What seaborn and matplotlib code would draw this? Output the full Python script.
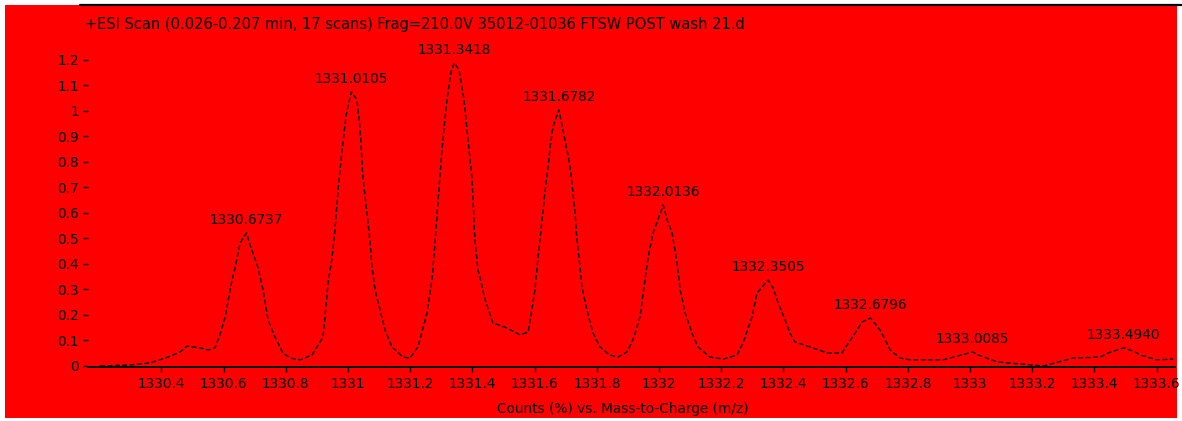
import numpy as np
import pandas as pd
import matplotlib
matplotlib.use("Agg")
import matplotlib.pyplot as plt
from matplotlib.lines import Line2D
from matplotlib.patches import Rectangle
import seaborn as sns

# Profile spectrum: m/z and relative counts
mz = [1330.203, 1330.299, 1330.363, 1330.412, 1330.460, 1330.482, 1330.524, 1330.550,
      1330.572, 1330.588, 1330.605, 1330.627, 1330.637, 1330.653, 1330.6737, 1330.685,
      1330.711, 1330.727, 1330.743, 1330.765, 1330.791, 1330.814, 1330.846, 1330.884,
      1330.920, 1330.936, 1330.949, 1330.958, 1330.968, 1330.981, 1330.994, 1331.0105,
      1331.029, 1331.039, 1331.048, 1331.061, 1331.071, 1331.077, 1331.087, 1331.103,
      1331.119, 1331.141, 1331.177, 1331.199, 1331.225, 1331.254, 1331.270, 1331.280,
      1331.289, 1331.302, 1331.318, 1331.331, 1331.3418, 1331.357, 1331.373, 1331.386,
      1331.399, 1331.408, 1331.418, 1331.424, 1331.441, 1331.466, 1331.511, 1331.553,
      1331.579, 1331.592, 1331.601, 1331.608, 1331.617, 1331.624, 1331.633, 1331.643,
      1331.650, 1331.659, 1331.6782, 1331.688, 1331.704, 1331.714, 1331.720, 1331.730,
      1331.736, 1331.746, 1331.752, 1331.768, 1331.788, 1331.810, 1331.842, 1331.868,
      1331.897, 1331.916, 1331.939, 1331.949, 1331.965, 1331.981, 1332.0136, 1332.026,
      1332.042, 1332.058, 1332.068, 1332.084, 1332.106, 1332.125, 1332.164, 1332.206,
      1332.251, 1332.270, 1332.299, 1332.315, 1332.3505, 1332.367, 1332.383, 1332.399,
      1332.421, 1332.437, 1332.495, 1332.540, 1332.588, 1332.637, 1332.653, 1332.6796,
      1332.711, 1332.743, 1332.775, 1332.807, 1332.913, 1333.0085, 1333.026, 1333.087,
      1333.235, 1333.331, 1333.418, 1333.444, 1333.473, 1333.494, 1333.531, 1333.547,
      1333.601, 1333.653]
counts = [0.000, 0.004, 0.012, 0.031, 0.055, 0.078, 0.071, 0.063,
          0.071, 0.122, 0.192, 0.337, 0.384, 0.482, 0.522, 0.475,
          0.384, 0.298, 0.180, 0.114, 0.051, 0.031, 0.024, 0.043,
          0.114, 0.325, 0.427, 0.533, 0.690, 0.847, 0.984, 1.075,
          1.043, 0.925, 0.737, 0.600, 0.486, 0.388, 0.298, 0.220,
          0.141, 0.075, 0.035, 0.031, 0.075, 0.208, 0.337, 0.486,
          0.639, 0.847, 1.043, 1.153, 1.188, 1.161, 1.043, 0.886,
          0.729, 0.494, 0.376, 0.349, 0.259, 0.169, 0.149, 0.122,
          0.133, 0.227, 0.298, 0.388, 0.494, 0.573, 0.678, 0.780,
          0.859, 0.937, 1.004, 0.945, 0.847, 0.780, 0.718, 0.600,
          0.494, 0.388, 0.310, 0.220, 0.129, 0.075, 0.043, 0.035,
          0.055, 0.102, 0.192, 0.286, 0.427, 0.522, 0.631, 0.573,
          0.522, 0.404, 0.298, 0.208, 0.129, 0.075, 0.035, 0.027,
          0.043, 0.090, 0.192, 0.286, 0.337, 0.306, 0.247, 0.200,
          0.129, 0.094, 0.071, 0.051, 0.051, 0.141, 0.173, 0.188,
          0.141, 0.063, 0.031, 0.024, 0.024, 0.055, 0.043, 0.016,
          0.000, 0.031, 0.035, 0.051, 0.063, 0.071, 0.055, 0.043,
          0.024, 0.027]

# Labelled centroids
peak_mz = [1330.6737, 1331.0105, 1331.3418, 1331.6782, 1332.0136,
           1332.3505, 1332.6796, 1333.0085, 1333.4940]

x_ticks = [1330.4, 1330.6, 1330.8, 1331.0, 1331.2, 1331.4, 1331.6, 1331.8, 1332.0,
           1332.2, 1332.4, 1332.6, 1332.8, 1333.0, 1333.2, 1333.4, 1333.6]
y_ticks = [0, 0.1, 0.2, 0.3, 0.4, 0.5, 0.6, 0.7, 0.8, 0.9, 1.0, 1.1, 1.2]

title_text = "+ESI Scan (0.026-0.207 min, 17 scans) Frag=210.0V 35012-01036 FTSW POST wash 21.d"
x_label = "Counts (%) vs. Mass-to-Charge (m/z)"

RED = "#ff0000"
FS = 9.8

sns.set_theme(style="white")
plt.rcParams["font.family"] = ["DejaVu Sans"]

W, H = 1182, 421
fig = plt.figure(figsize=(W / 100, H / 100), dpi=100, facecolor="white")
fig.add_artist(Rectangle((5 / W, 3 / H), 1172 / W, 413 / H, transform=fig.transFigure,
                         facecolor=RED, edgecolor="none", zorder=0))
fig.add_artist(Line2D([80 / W, 1.0], [1 - 5 / H, 1 - 5 / H], transform=fig.transFigure,
                      color="black", lw=1.6, zorder=1))

left, right, bottom, top = 88, 1175, 367, 40
ax = fig.add_axes([left / W, (H - bottom) / H, (right - left) / W, (bottom - top) / H])
ax.set_facecolor(RED)

df = pd.DataFrame({"mz": mz, "counts": counts})
sns.lineplot(data=df, x="mz", y="counts", ax=ax, color="black", lw=1.0,
             sort=False, estimator=None)
ax.lines[0].set_linestyle((0, (3.5, 1.8)))

for pm in peak_mz:
    ph = float(np.interp(pm, mz, counts))
    ax.annotate(f"{pm:.4f}", (pm, ph), xytext=(0, 4.5), textcoords="offset points",
                ha="center", va="bottom", fontsize=FS, color="black")

ax.set_xlim(1330.164, 1333.659)
ax.set_ylim(-0.004, 1.278)
ax.set_xticks(x_ticks)
ax.set_xticklabels([f"{t:g}" for t in x_ticks])
ax.set_yticks(y_ticks)
ax.set_yticklabels([f"{t:g}" for t in y_ticks])
ax.tick_params(axis="both", labelsize=FS, colors="black", direction="out",
               length=3.5, width=1, pad=3)
ax.tick_params(axis="x", bottom=True, pad=3.5)
ax.tick_params(axis="y", left=True)

for side in ("top", "right", "left"):
    ax.spines[side].set_visible(False)
ax.spines["bottom"].set_color("black")
ax.spines["bottom"].set_linewidth(1.4)

ax.set_xlabel(x_label, fontsize=FS, color="black")
ax.set_ylabel("")
ax.xaxis.set_label_coords((623 - left) / (right - left), -(402 - bottom) / (bottom - top))

fig.text(85 / W, 1 - 25 / H, title_text, fontsize=10.5, color="black", ha="left", va="center")

fig.savefig("out.png", dpi=100, facecolor=fig.get_facecolor())
